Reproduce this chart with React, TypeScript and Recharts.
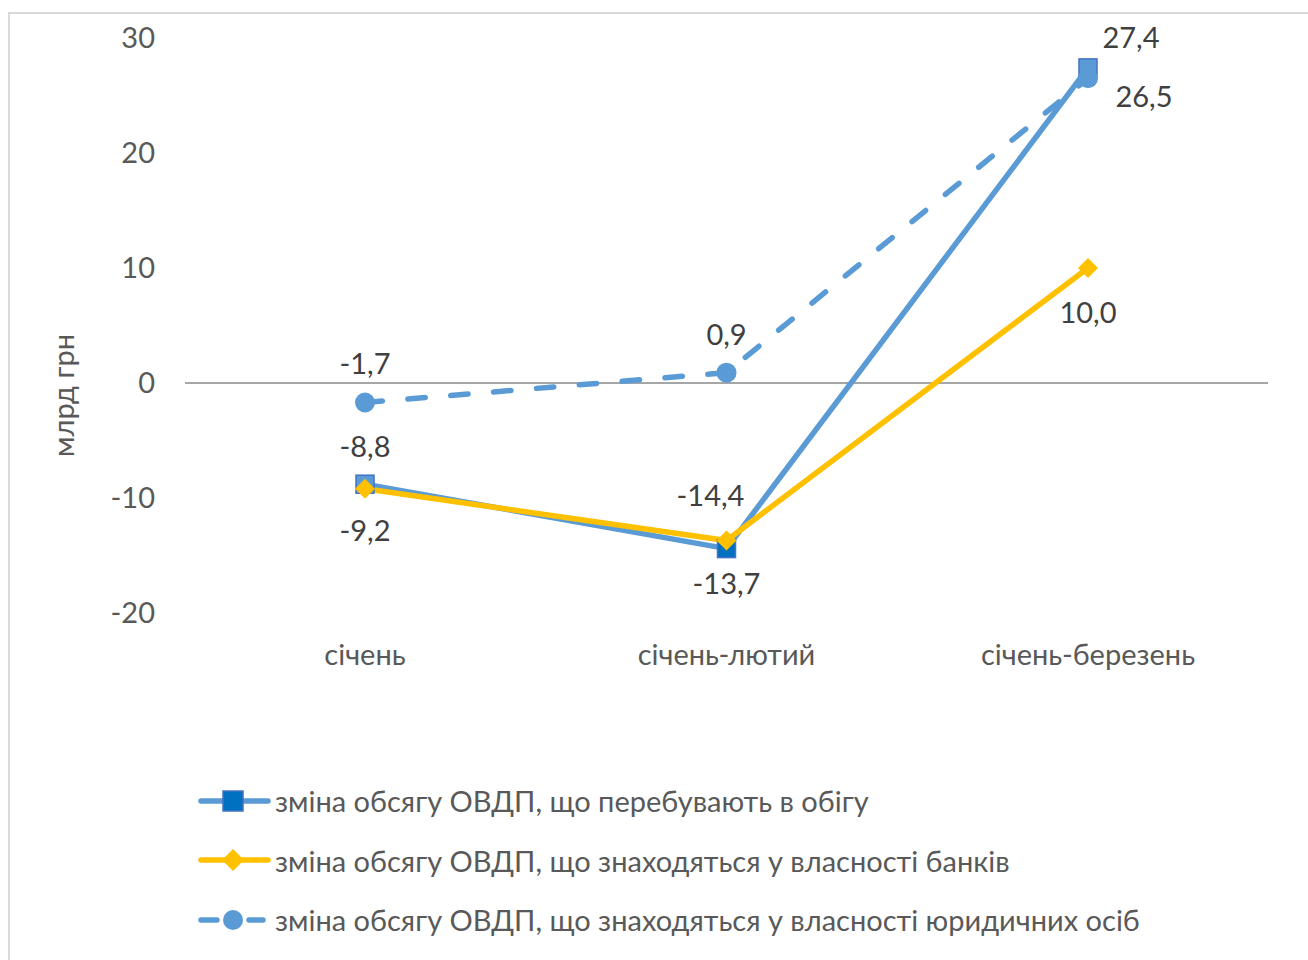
// Зміна обсягу ОВДП за I квартал, млрд грн — three line series on a category axis.
import { LineChart, Line, XAxis, YAxis, ReferenceLine, Legend, LabelList, Label } from 'recharts';

const periods = ['січень', 'січень-лютий', 'січень-березень'];
const inCirculation = [-8.8, -14.4, 27.4];
const heldByBanks = [-9.2, -13.7, 10.0];
const heldByLegalEntities = [-1.7, 0.9, 26.5];
const yTicks = [-20, -10, 0, 10, 20, 30];
const seriesNames = [
  'зміна обсягу ОВДП, що перебувають в обігу',
  'зміна обсягу ОВДП, що знаходяться у власності банків',
  'зміна обсягу ОВДП, що знаходяться у власності юридичних осіб',
];

const data = periods.map((p, i) => ({
  period: p,
  circ: inCirculation[i],
  banks: heldByBanks[i],
  legal: heldByLegalEntities[i],
}));

const FONT = 'Lato, "Open Sans", sans-serif';
const C = {
  blue: '#5B9BD5',
  darkBlue: '#0070C0',
  edge: '#4472C4',
  gold: '#FFC000',
  text: '#595959',
  label: '#404040',
  zero: '#A6A6A6',
  border: '#D9D9D9',
};
const LINE_W = 5.5;

const fmt = (v: number) => v.toFixed(1).replace('.', ',');

// label offsets from the point, per index
const makeLabel = (offsets: { dx: number; dy: number }[]) => (props: any) => {
  const { x, y, value, index } = props;
  const o = offsets[index] ?? { dx: 0, dy: -30 };
  return (
    <text
      x={x + o.dx}
      y={y + o.dy}
      textAnchor="middle"
      dominantBaseline="central"
      fill={C.label}
      fontSize={29}
      fontFamily={FONT}
    >
      {fmt(Number(value))}
    </text>
  );
};

const squareFills = [C.blue, C.darkBlue, C.blue];

const SquareDot = (props: any) => {
  const { cx, cy, index } = props;
  return (
    <rect
      key={`sq-${index}`}
      x={cx - 9}
      y={cy - 9}
      width={18}
      height={18}
      fill={squareFills[index] ?? C.darkBlue}
      stroke={C.edge}
      strokeWidth={1.5}
    />
  );
};

const DiamondDot = (props: any) => {
  const { cx, cy, index } = props;
  const r = 10;
  return (
    <polygon
      key={`dm-${index}`}
      points={`${cx},${cy - r} ${cx + r},${cy} ${cx},${cy + r} ${cx - r},${cy}`}
      fill={C.gold}
    />
  );
};

const CircleDot = (props: any) => {
  const { cx, cy, index } = props;
  return <circle key={`ci-${index}`} cx={cx} cy={cy} r={10} fill={C.blue} />;
};

function LegendIcon({ kind }: { kind: number }) {
  return (
    <svg width={80} height={30} style={{ flex: 'none' }}>
      {kind === 2 ? (
        <>
          <line x1={4} y1={15} x2={20} y2={15} stroke={C.blue} strokeWidth={LINE_W} strokeLinecap="round" />
          <line x1={52} y1={15} x2={66} y2={15} stroke={C.blue} strokeWidth={LINE_W} strokeLinecap="round" />
          <circle cx={36} cy={15} r={10} fill={C.blue} />
        </>
      ) : (
        <>
          <line
            x1={4}
            y1={15}
            x2={71}
            y2={15}
            stroke={kind === 0 ? C.blue : C.gold}
            strokeWidth={LINE_W}
            strokeLinecap="round"
          />
          {kind === 0 ? (
            <rect x={26} y={5} width={20} height={20} fill={C.darkBlue} stroke={C.edge} strokeWidth={1.5} />
          ) : (
            <polygon points="36,4 47,15 36,26 25,15" fill={C.gold} />
          )}
        </>
      )}
    </svg>
  );
}

const renderLegend = () => (
  <div style={{ fontFamily: FONT, fontSize: 29, color: C.text }}>
    {seriesNames.map((name, i) => (
      <div key={name} style={{ display: 'flex', alignItems: 'center', height: 59.5, whiteSpace: 'nowrap' }}>
        <LegendIcon kind={i} />
        <span style={{ marginLeft: -2 }}>{name}</span>
      </div>
    ))}
  </div>
);

export default function App() {
  return (
    <div style={{ position: 'absolute', left: 0, top: 0, width: 1308, height: 960, background: '#fff', overflow: 'hidden' }}>
      <div
        style={{
          position: 'absolute',
          left: 8,
          top: 12,
          width: 1400,
          height: 1000,
          border: `2px solid ${C.border}`,
        }}
      />
      <div style={{ position: 'absolute', left: 0, top: 0 }}>
        <LineChart width={1308} height={960} data={data} margin={{ top: 38, right: 40, bottom: 317, left: 0 }}>
          <XAxis
            dataKey="period"
            axisLine={false}
            tickLine={false}
            tickSize={0}
            tickMargin={31}
            height={30}
            padding={{ left: 180, right: 180 }}
            tick={{ fill: C.text, fontSize: 29, fontFamily: FONT }}
          />
          <YAxis
            domain={[-20, 30]}
            ticks={yTicks}
            width={185}
            axisLine={false}
            tickLine={false}
            tickSize={0}
            tickMargin={30}
            tick={{ fill: C.text, fontSize: 29, fontFamily: FONT }}
          >
            <Label
              content={(p: any) => {
                const vb = p.viewBox;
                const x = vb.x + 62;
                const y = vb.y + vb.height / 2 + 70;
                return (
                  <text
                    x={x}
                    y={y}
                    transform={`rotate(-90, ${x}, ${y})`}
                    textAnchor="middle"
                    dominantBaseline="central"
                    fill={C.text}
                    fontSize={29}
                    fontFamily={FONT}
                  >
                    млрд грн
                  </text>
                );
              }}
            />
          </YAxis>
          <ReferenceLine y={0} stroke={C.zero} strokeWidth={2} />
          <Legend
            layout="vertical"
            align="center"
            verticalAlign="middle"
            content={renderLegend}
            wrapperStyle={{ left: 197, top: 771, width: 1000 }}
          />
          <Line
            dataKey="circ"
            stroke={C.blue}
            strokeWidth={LINE_W}
            dot={SquareDot}
            activeDot={false}
            isAnimationActive={false}
          >
            <LabelList
              dataKey="circ"
              content={makeLabel([
                { dx: 0, dy: -39 },
                { dx: -16, dy: -54 },
                { dx: 43, dy: -31 },
              ])}
            />
          </Line>
          <Line
            dataKey="banks"
            stroke={C.gold}
            strokeWidth={LINE_W}
            dot={DiamondDot}
            activeDot={false}
            isAnimationActive={false}
          >
            <LabelList
              dataKey="banks"
              content={makeLabel([
                { dx: 0, dy: 41 },
                { dx: 0, dy: 42 },
                { dx: 0, dy: 43 },
              ])}
            />
          </Line>
          <Line
            dataKey="legal"
            stroke={C.blue}
            strokeWidth={LINE_W}
            strokeDasharray="17.5 25.5"
            strokeLinecap="round"
            dot={CircleDot}
            activeDot={false}
            isAnimationActive={false}
          >
            <LabelList
              dataKey="legal"
              content={makeLabel([
                { dx: 0, dy: -40 },
                { dx: 0, dy: -39 },
                { dx: 56, dy: 17 },
              ])}
            />
          </Line>
        </LineChart>
      </div>
    </div>
  );
}
